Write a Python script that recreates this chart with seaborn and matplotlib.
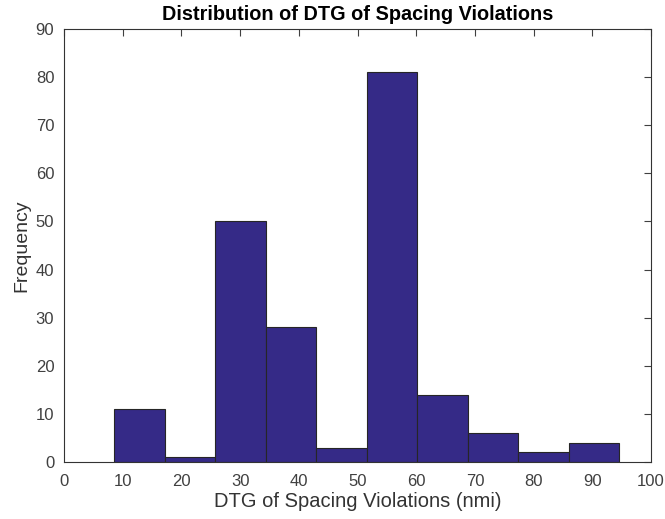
import numpy as np
import pandas as pd
import matplotlib
matplotlib.use("Agg")
import matplotlib.pyplot as plt
import seaborn as sns

# Data
bin_start = 8.6
bin_width = 8.6
counts = [11, 1, 50, 28, 3, 81, 14, 6, 2, 4]
x_ticks = [0, 10, 20, 30, 40, 50, 60, 70, 80, 90, 100]
y_ticks = [0, 10, 20, 30, 40, 50, 60, 70, 80, 90]

edges = [bin_start + bin_width * i for i in range(len(counts) + 1)]
centers = [(edges[i] + edges[i + 1]) / 2 for i in range(len(counts))]
df = pd.DataFrame({"dtg": centers, "n": counts})

sns.set_style("white")
plt.rcParams["font.family"] = ["Liberation Sans", "DejaVu Sans"]

fig = plt.figure(figsize=(6.65, 5.19), dpi=100)
ax = fig.add_axes([64 / 665, 57 / 519, (651 - 64) / 665, (462 - 29) / 519])

sns.histplot(data=df, x="dtg", weights="n", bins=edges, ax=ax,
             color="#352a87", alpha=1.0, edgecolor="#262626", linewidth=0.8)

ax.set_xlim(0, 100)
ax.set_ylim(0, 90)
ax.set_xticks(x_ticks)
ax.set_yticks(y_ticks)
ax.tick_params(direction="in", length=5, width=0.8, colors="#404040",
               labelsize=12, top=True, right=True, labeltop=False, labelright=False)
ax.tick_params(axis="x", pad=9)
ax.tick_params(axis="y", pad=7)
for s in ax.spines.values():
    s.set_color("#333333")
    s.set_linewidth(0.8)
ax.set_xlabel("DTG of Spacing Violations (nmi)", fontsize=14.5, color="#333333", labelpad=2)
ax.set_ylabel("Frequency", fontsize=14, color="#333333", labelpad=4)
ax.set_title("Distribution of DTG of Spacing Violations", fontsize=14.3,
             fontweight="bold", color="black", pad=6.5)

fig.savefig("out.png", dpi=100)
